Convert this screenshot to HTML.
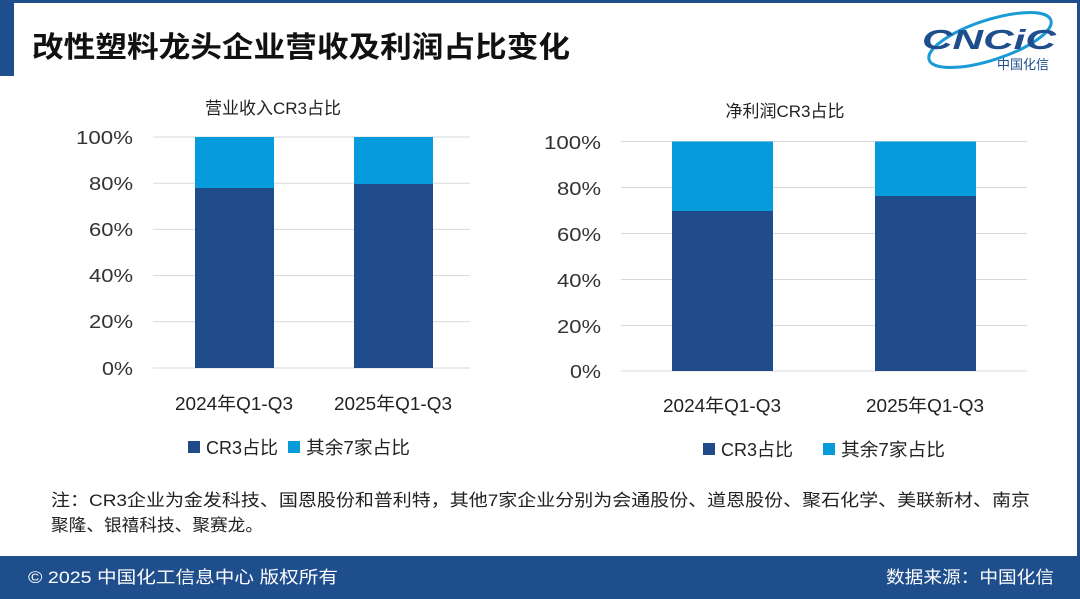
<!DOCTYPE html>
<html><head><meta charset="utf-8"><style>
body{margin:0;width:1080px;height:599px;overflow:hidden;background:#fff;font-family:"Liberation Sans","Noto Sans CJK SC",sans-serif;}
</style></head><body>
<svg width="1080" height="599" xmlns="http://www.w3.org/2000/svg" style="position:absolute;left:0;top:0" font-family="'Liberation Sans','Noto Sans CJK SC',sans-serif">
<rect x="0" y="0" width="1080" height="3" fill="#1f4e8c"/>
<rect x="1077" y="0" width="3" height="599" fill="#1f4e8c"/>
<rect x="0" y="0" width="14" height="76" fill="#1f4e8c"/>
<text x="32" y="57" font-size="29" font-weight="bold" fill="#111" textLength="538" lengthAdjust="spacingAndGlyphs">改性塑料龙头企业营收及利润占比变化</text>
<ellipse cx="990" cy="40" rx="64" ry="20" fill="none" stroke="#1a9ad6" stroke-width="3" transform="rotate(-18 990 40)"/>
<text x="922" y="49" font-size="28" font-weight="bold" font-style="italic" fill="#1f4e8c" textLength="134" lengthAdjust="spacingAndGlyphs">CNCiC</text>
<text x="997" y="69" font-size="13" fill="#1f4e8c">中国化信</text>
<!-- chart 1 -->
<text x="273" y="114" font-size="17" fill="#222" text-anchor="middle">营业收入CR3占比</text>
<g stroke="#d9d9d9" stroke-width="1">
<line x1="153" x2="470" y1="137" y2="137"/><line x1="153" x2="470" y1="183.2" y2="183.2"/><line x1="153" x2="470" y1="229.4" y2="229.4"/><line x1="153" x2="470" y1="275.6" y2="275.6"/><line x1="153" x2="470" y1="321.8" y2="321.8"/><line x1="153" x2="470" y1="368" y2="368"/>
</g>
<g font-size="18" fill="#333" text-anchor="end">
<text x="133" y="144" textLength="57" lengthAdjust="spacingAndGlyphs">100%</text><text x="133" y="190" textLength="44" lengthAdjust="spacingAndGlyphs">80%</text><text x="133" y="236" textLength="44" lengthAdjust="spacingAndGlyphs">60%</text><text x="133" y="282" textLength="44" lengthAdjust="spacingAndGlyphs">40%</text><text x="133" y="328" textLength="44" lengthAdjust="spacingAndGlyphs">20%</text><text x="133" y="375" textLength="31" lengthAdjust="spacingAndGlyphs">0%</text>
</g>
<rect x="195" y="137" width="79" height="51" fill="#069bdb"/><rect x="195" y="188" width="79" height="180" fill="#1f4b8b"/>
<rect x="354" y="137" width="79" height="47" fill="#069bdb"/><rect x="354" y="184" width="79" height="184" fill="#1f4b8b"/>
<text x="175" y="410" font-size="18" fill="#222" textLength="118" lengthAdjust="spacingAndGlyphs">2024年Q1-Q3</text>
<text x="334" y="410" font-size="18" fill="#222" textLength="118" lengthAdjust="spacingAndGlyphs">2025年Q1-Q3</text>
<rect x="188" y="441" width="12" height="12" fill="#1f4b8b"/><text x="206" y="454" font-size="18" fill="#222" textLength="72" lengthAdjust="spacingAndGlyphs">CR3占比</text>
<rect x="288" y="441" width="12" height="12" fill="#069bdb"/><text x="306" y="454" font-size="18" fill="#222" textLength="104" lengthAdjust="spacingAndGlyphs">其余7家占比</text>
<!-- chart 2 -->
<text x="785" y="117" font-size="17" fill="#222" text-anchor="middle">净利润CR3占比</text>
<g stroke="#d9d9d9" stroke-width="1">
<line x1="621" x2="1027" y1="141.5" y2="141.5"/><line x1="621" x2="1027" y1="187.5" y2="187.5"/><line x1="621" x2="1027" y1="233.5" y2="233.5"/><line x1="621" x2="1027" y1="279.5" y2="279.5"/><line x1="621" x2="1027" y1="325.5" y2="325.5"/><line x1="621" x2="1027" y1="371" y2="371"/>
</g>
<g font-size="18" fill="#333" text-anchor="end">
<text x="601" y="149" textLength="57" lengthAdjust="spacingAndGlyphs">100%</text><text x="601" y="195" textLength="44" lengthAdjust="spacingAndGlyphs">80%</text><text x="601" y="241" textLength="44" lengthAdjust="spacingAndGlyphs">60%</text><text x="601" y="287" textLength="44" lengthAdjust="spacingAndGlyphs">40%</text><text x="601" y="333" textLength="44" lengthAdjust="spacingAndGlyphs">20%</text><text x="601" y="378" textLength="31" lengthAdjust="spacingAndGlyphs">0%</text>
</g>
<rect x="672" y="141.5" width="101" height="70" fill="#069bdb"/><rect x="672" y="211" width="101" height="160" fill="#1f4b8b"/>
<rect x="875" y="141.5" width="101" height="55" fill="#069bdb"/><rect x="875" y="196" width="101" height="175" fill="#1f4b8b"/>
<text x="663" y="412" font-size="18" fill="#222" textLength="118" lengthAdjust="spacingAndGlyphs">2024年Q1-Q3</text>
<text x="866" y="412" font-size="18" fill="#222" textLength="118" lengthAdjust="spacingAndGlyphs">2025年Q1-Q3</text>
<rect x="703" y="443" width="12" height="12" fill="#1f4b8b"/><text x="721" y="456" font-size="18" fill="#222" textLength="72" lengthAdjust="spacingAndGlyphs">CR3占比</text>
<rect x="823" y="443" width="12" height="12" fill="#069bdb"/><text x="841" y="456" font-size="18" fill="#222" textLength="104" lengthAdjust="spacingAndGlyphs">其余7家占比</text>
<!-- note -->
<text x="51" y="506" font-size="17" fill="#222" textLength="979" lengthAdjust="spacingAndGlyphs">注：CR3企业为金发科技、国恩股份和普利特，其他7家企业分别为会通股份、道恩股份、聚石化学、美联新材、南京</text>
<text x="51" y="531" font-size="17" fill="#222" textLength="212" lengthAdjust="spacingAndGlyphs">聚隆、银禧科技、聚赛龙。</text>
<rect x="0" y="556" width="1080" height="43" fill="#1f4e8c"/>
<text x="28" y="583" font-size="17" fill="#fff" textLength="310" lengthAdjust="spacingAndGlyphs">© 2025 中国化工信息中心  版权所有</text>
<text x="886" y="583" font-size="17" fill="#fff" textLength="168" lengthAdjust="spacingAndGlyphs">数据来源：中国化信</text>
</svg>
</body></html>
